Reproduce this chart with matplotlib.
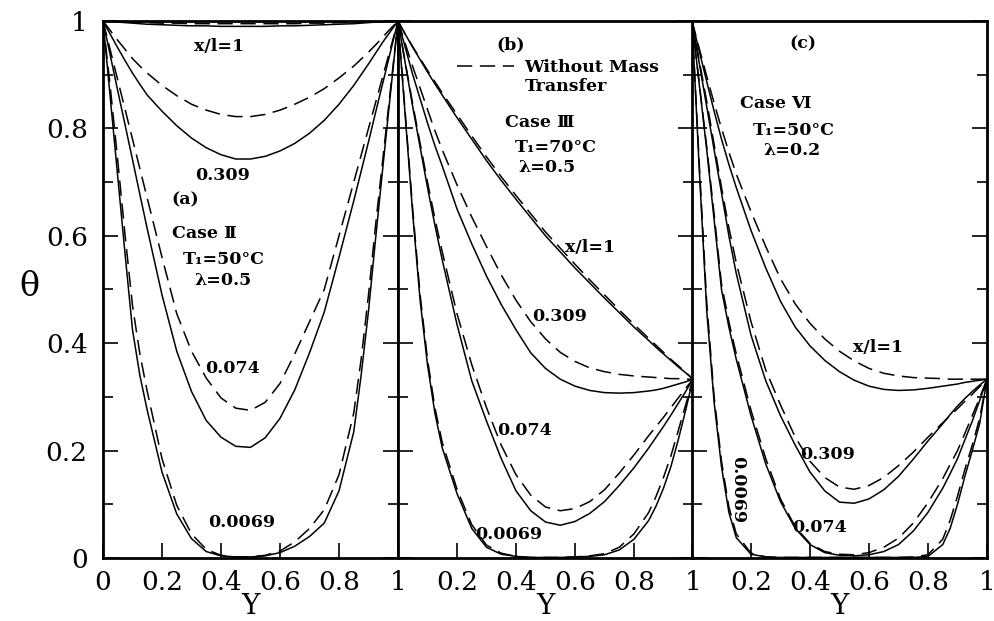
import matplotlib.pyplot as plt
import numpy as np
from matplotlib.lines import Line2D

plt.rcParams['font.family'] = ['DejaVu Serif', 'DejaVu Sans']

# shared Y positions of the read values
Y = [0, .025, .05, .075, .1, .125, .15, .2, .25, .3, .35, .4, .45, .5,
     .55, .6, .65, .7, .75, .8, .85, .875, .9, .925, .95, .975, 1]

# (a) Case II, T1=50C, lambda=0.5  (solid = with mass transfer, dashed = without)
a_1 = [1, .999, .998, .997, .996, .995, .994, .993, .992, .991, .991, .990, .990, .990,
       .990, .991, .991, .992, .993, .994, .995, .996, .997, .998, .998, .999, 1]
a_1_nm = [1, 1, .999, .999, .998, .998, .997, .996, .996, .995, .995, .995, .995, .995,
          .995, .995, .995, .996, .996, .997, .997, .998, .998, .999, .999, 1, 1]
a_309 = [1, .975, .95, .926, .903, .882, .862, .832, .805, .782, .764, .751, .743, .743,
         .748, .758, .772, .791, .815, .845, .880, .90, .920, .941, .962, .981, 1]
a_309_nm = [1, .982, .964, .947, .93, .916, .903, .88, .861, .845, .834, .826, .822, .822,
            .826, .834, .845, .858, .874, .894, .916, .929, .942, .956, .971, .986, 1]
a_074 = [1, .935, .87, .806, .742, .677, .613, .49, .385, .31, .256, .225, .208, .206,
         .224, .26, .313, .382, .458, .56, .665, .72, .775, .832, .888, .944, 1]
a_074_nm = [1, .945, .89, .835, .78, .725, .67, .56, .455, .385, .335, .298, .279, .275,
            .29, .325, .38, .44, .50, .60, .70, .75, .80, .85, .90, .95, 1]
a_0069 = [1, .855, .71, .565, .425, .34, .275, .16, .082, .036, .012, .004, .002, .002,
          .004, .01, .022, .04, .065, .125, .235, .34, .46, .60, .735, .868, 1]
a_0069_nm = [1, .875, .74, .60, .47, .38, .31, .185, .098, .045, .016, .005, .002, .002,
             .005, .013, .03, .055, .09, .155, .27, .37, .49, .625, .75, .875, 1]

# (b) Case III, T1=70C, lambda=0.5
b_1 = [1, .975, .951, .928, .905, .883, .862, .82, .78, .74, .703, .668, .634, .60,
       .57, .54, .512, .484, .457, .43, .405, .392, .38, .368, .356, .345, .333]
b_1_nm = [1, .975, .952, .93, .908, .887, .866, .826, .786, .747, .71, .675, .641, .607,
          .577, .547, .518, .49, .462, .435, .409, .396, .383, .37, .358, .346, .333]
b_309 = [1, .95, .90, .855, .81, .768, .73, .65, .585, .525, .472, .425, .382, .353,
         .333, .32, .312, .308, .307, .308, .311, .313, .316, .32, .324, .328, .333]
b_309_nm = [1, .957, .915, .875, .835, .796, .76, .695, .635, .58, .527, .48, .44, .408,
            .383, .366, .354, .347, .342, .339, .337, .336, .335, .334, .334, .333, .333]
b_074 = [1, .92, .84, .765, .69, .62, .555, .435, .33, .255, .185, .125, .088, .067,
         .061, .068, .083, .105, .135, .168, .205, .225, .245, .266, .288, .31, .333]
b_074_nm = [1, .922, .845, .772, .70, .632, .57, .455, .36, .28, .21, .155, .117, .095,
            .088, .092, .105, .127, .158, .192, .228, .245, .262, .28, .298, .316, .333]
b_0069 = [1, .82, .64, .48, .36, .27, .205, .12, .055, .02, .007, .003, .001, .001,
          .001, .002, .003, .006, .015, .035, .07, .097, .13, .17, .22, .275, .333]
b_0069_nm = [1, .825, .648, .49, .37, .28, .215, .128, .062, .024, .009, .003, .001, .001,
             .001, .002, .004, .008, .02, .045, .085, .115, .15, .19, .237, .285, .333]

# (c) Case VI, T1=50C, lambda=0.2
c_1 = [1, .943, .887, .832, .78, .733, .69, .61, .54, .478, .43, .395, .368, .347,
       .331, .32, .314, .312, .313, .316, .32, .322, .324, .327, .329, .331, .333]
c_1_nm = [1, .948, .897, .847, .80, .756, .715, .645, .58, .52, .473, .437, .408, .385,
          .367, .353, .344, .339, .336, .335, .334, .333, .333, .333, .333, .333, .333]
c_309 = [1, .92, .84, .76, .68, .60, .53, .415, .33, .265, .21, .16, .125, .104,
         .102, .11, .127, .152, .184, .218, .25, .267, .283, .297, .31, .322, .333]
c_309_nm = [1, .925, .85, .77, .69, .615, .55, .44, .35, .285, .225, .18, .15, .132,
            .128, .135, .15, .172, .197, .225, .252, .265, .278, .292, .305, .319, .333]
c_074 = [1, .88, .76, .63, .50, .43, .37, .265, .175, .105, .055, .025, .01, .005,
         .004, .006, .012, .025, .05, .085, .13, .157, .185, .22, .255, .293, .333]
c_074_nm = [1, .882, .765, .64, .51, .44, .38, .275, .185, .11, .058, .027, .012, .007,
            .006, .01, .02, .037, .065, .103, .148, .174, .2, .232, .265, .298, .333]
c_0069 = [1, .72, .46, .29, .17, .085, .038, .007, .002, .001, .001, .001, .001, .001,
          .001, .001, .001, .001, .001, .003, .025, .055, .10, .152, .20, .25, .333]
c_0069_nm = [1, .73, .475, .30, .18, .095, .045, .009, .002, .001, .001, .001, .001, .001,
             .001, .001, .001, .001, .002, .006, .035, .07, .115, .165, .21, .26, .333]

panels = [
    [(a_1, a_1_nm), (a_309, a_309_nm), (a_074, a_074_nm), (a_0069, a_0069_nm)],
    [(b_1, b_1_nm), (b_309, b_309_nm), (b_074, b_074_nm), (b_0069, b_0069_nm)],
    [(c_1, c_1_nm), (c_309, c_309_nm), (c_074, c_074_nm), (c_0069, c_0069_nm)],
]

fig = plt.figure(figsize=(9.94, 6.21), dpi=100)
lefts = [103, 398, 692]
axes = [fig.add_axes([l / 994, 63 / 621, 295 / 994, 537 / 621]) for l in lefts]

for i, ax in enumerate(axes):
    for solid, dashed in panels[i]:
        ax.plot(Y, solid, color='black', lw=1.1)
        ax.plot(Y, dashed, color='black', lw=1.1, dashes=(10, 5))
    ax.set_xlim(0, 1)
    ax.set_ylim(0, 1)
    ax.set_xticks([0, .2, .4, .6, .8, 1])
    if i == 0:
        ax.set_xticklabels(['0', '0.2', '0.4', '0.6', '0.8', '1'])
    else:
        ax.set_xticklabels(['', '0.2', '0.4', '0.6', '0.8', '1'])
    ax.set_yticks([0, .2, .4, .6, .8, 1])
    ax.set_yticklabels(['0', '0.2', '0.4', '0.6', '0.8', '1'])
    ax.set_yticks(np.arange(0.1, 1, 0.2), minor=True)
    ax.tick_params(which='both', direction='in', left=True, right=True,
                   top=False, bottom=True, width=1.2, labelsize=19)
    ax.tick_params(which='major', length=11)
    ax.tick_params(which='minor', length=7)
    ax.tick_params(axis='x', pad=9)
    ax.tick_params(axis='y', pad=11, labelleft=(i == 0))
    for s in ax.spines.values():
        s.set_linewidth(2)
    ax.set_xlabel('Y', fontsize=20, labelpad=-2)

fig.text(0.03, 0.538, 'θ', fontsize=24, ha='center', va='center')

kw = dict(fontsize=12.5, fontweight='bold', va='center')
ax = axes[0]
ax.text(0.394, 0.953, 'x/l=1', ha='center', **kw)
ax.text(0.404, 0.713, '0.309', ha='center', **kw)
ax.text(0.28, 0.667, '(a)', ha='center', **kw)
ax.text(0.234, 0.605, 'Case Ⅱ', ha='left', **kw)
ax.text(0.271, 0.555, 'T₁=50°C', ha='left', **kw)
ax.text(0.31, 0.516, 'λ=0.5', ha='left', **kw)
ax.text(0.44, 0.352, '0.074', ha='center', **kw)
ax.text(0.47, 0.067, '0.0069', ha='center', **kw)

ax = axes[1]
ax.text(0.383, 0.955, '(b)', ha='center', **kw)
ax.legend(handles=[Line2D([], [], color='black', lw=1.1, dashes=(10, 5))],
          labels=['Without Mass'], loc='center left', bbox_to_anchor=(0.2, 0.914),
          frameon=False, borderpad=0, borderaxespad=0, handlelength=3.3,
          handletextpad=0.57, prop=dict(size=12.5, weight='bold'))
ax.text(0.43, 0.878, 'Transfer', ha='left', **kw)
ax.text(0.363, 0.811, 'Case Ⅲ', ha='left', **kw)
ax.text(0.397, 0.764, 'T₁=70°C', ha='left', **kw)
ax.text(0.407, 0.727, 'λ=0.5', ha='left', **kw)
ax.text(0.566, 0.578, 'x/l=1', ha='left', **kw)
ax.text(0.454, 0.449, '0.309', ha='left', **kw)
ax.text(0.336, 0.238, '0.074', ha='left', **kw)
ax.text(0.261, 0.044, '0.0069', ha='left', **kw)

ax = axes[2]
ax.text(0.376, 0.957, '(c)', ha='center', **kw)
ax.text(0.163, 0.846, 'Case Ⅵ', ha='left', **kw)
ax.text(0.207, 0.796, 'T₁=50°C', ha='left', **kw)
ax.text(0.241, 0.759, 'λ=0.2', ha='left', **kw)
ax.text(0.546, 0.392, 'x/l=1', ha='left', **kw)
ax.text(0.366, 0.193, '0.309', ha='left', **kw)
ax.text(0.339, 0.057, '0.074', ha='left', **kw)
ax.text(0.154, 0.127, '0.0069', ha='center', rotation=-90, **kw)

fig.savefig('out.png', dpi=100)
